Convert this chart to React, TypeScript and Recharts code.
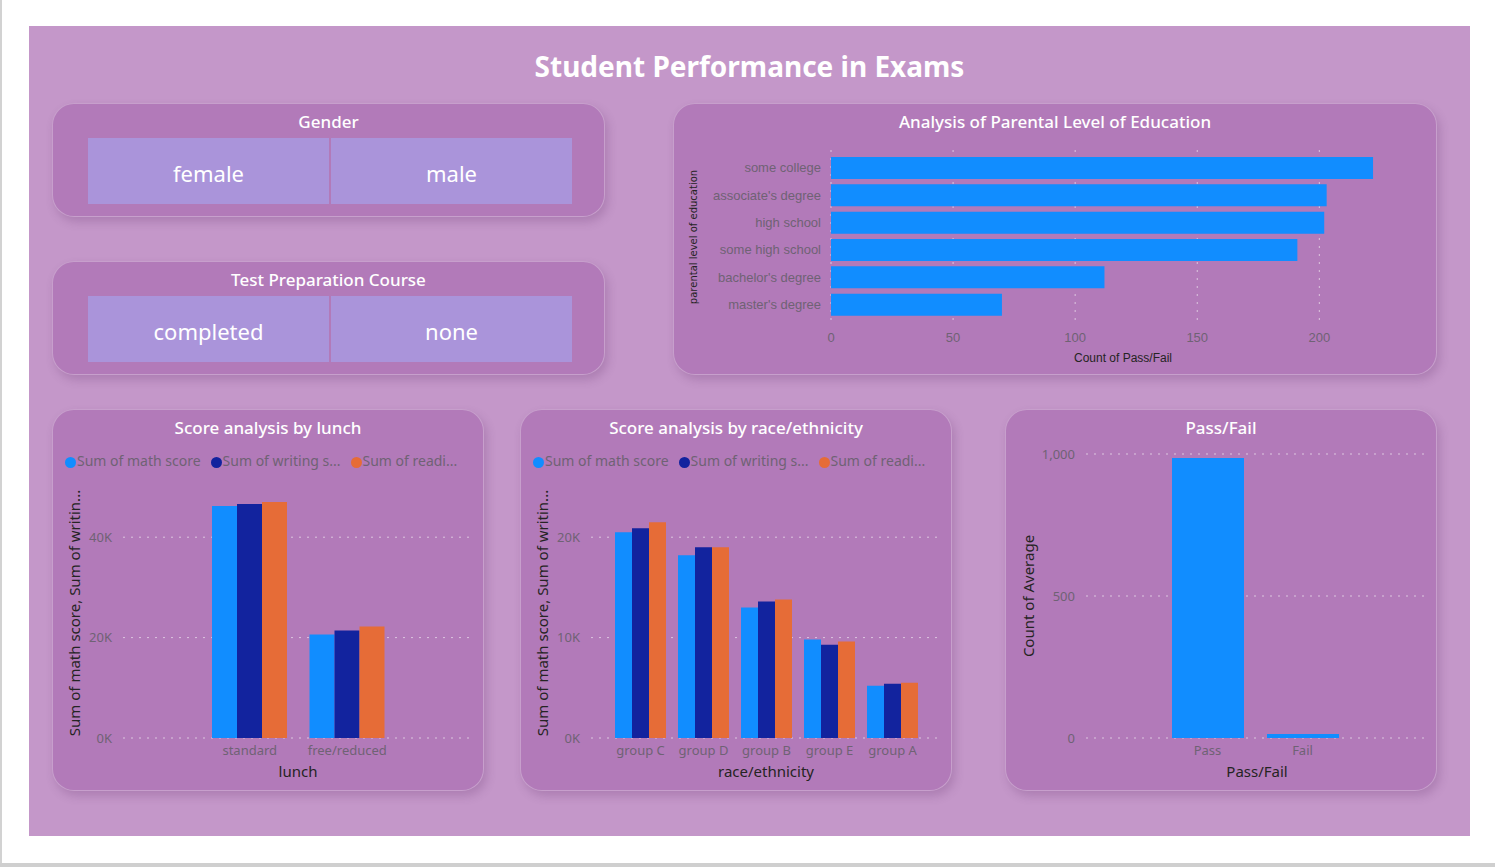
import { Bar, BarChart, CartesianGrid, Legend, XAxis, YAxis } from "recharts"

const genderOptions = ["female", "male"]
const prepOptions = ["completed", "none"]

const educationLevels = ["some college", "associate's degree", "high school", "some high school", "bachelor's degree", "master's degree"]
const educationCounts = [222, 203, 202, 191, 112, 70]
const educationTicks = [0, 50, 100, 150, 200]

const lunchTypes = ["standard", "free/reduced"]
const lunchMath = [46200, 20600]
const lunchWriting = [46600, 21400]
const lunchReading = [47000, 22200]
const lunchTicks = [0, 20000, 40000]

const raceGroups = ["group C", "group D", "group B", "group E", "group A"]
const raceMath = [20500, 18200, 13000, 9800, 5200]
const raceWriting = [20900, 19000, 13600, 9300, 5400]
const raceReading = [21500, 19000, 13800, 9600, 5500]
const raceTicks = [0, 10000, 20000]

const passFailLabels = ["Pass", "Fail"]
const passFailCounts = [986, 14]
const passFailTicks = [0, 500, 1000]

const seriesNames = ["Sum of math score", "Sum of writing s...", "Sum of readi..."]
const seriesColors = ["#118DFF", "#12239E", "#E66C37"]

const educationData = educationLevels.map((level, i) => ({ level, count: educationCounts[i] }))
const lunchData = lunchTypes.map((lunch, i) => ({ lunch, math: lunchMath[i], writing: lunchWriting[i], reading: lunchReading[i] }))
const raceData = raceGroups.map((group, i) => ({ group, math: raceMath[i], writing: raceWriting[i], reading: raceReading[i] }))
const passFailData = passFailLabels.map((label, i) => ({ label, count: passFailCounts[i] }))

const font = "'Noto Sans', 'Open Sans', sans-serif"
const narrow = "'Liberation Sans Narrow', 'Liberation Sans', sans-serif"
const tickColor = "#6f6274"
const titleColor = "#252423"
const gridColor = "#dcc6df"

const panelStyle = (left: number, top: number, width: number, height: number): React.CSSProperties => ({
  position: "absolute",
  left,
  top,
  width,
  height,
  background: "#B27AB9",
  borderRadius: 22,
  border: "1px solid rgba(255,255,255,0.28)",
  boxShadow: "3px 5px 10px rgba(90,40,100,0.22)",
  boxSizing: "border-box",
  fontFamily: font,
})

const panelTitle = (text: string, top: number) => (
  <div style={{ position: "absolute", left: 0, right: 0, top, textAlign: "center", color: "#fff", fontSize: 17, fontWeight: 500 }}>
    {text}
  </div>
)

function Slicer({ left, top, title, options }: { left: number; top: number; title: string; options: string[] }) {
  return (
    <div style={panelStyle(left, top, 553, 114)}>
      {panelTitle(title, 6)}
      {options.map((o, i) => (
        <div
          key={o}
          style={{
            position: "absolute",
            left: 35 + i * 243,
            top: 34,
            width: 241,
            height: 66,
            background: "#AA94DA",
            color: "#fff",
            fontSize: 22,
            paddingTop: 3,
            boxSizing: "border-box",
            display: "flex",
            alignItems: "center",
            justifyContent: "center",
          }}
        >
          {o}
        </div>
      ))}
    </div>
  )
}

const vLabel = (text: string, cx: number, cy: number, size: number, family = font) => (
  <div
    style={{
      position: "absolute",
      left: cx,
      top: cy,
      transform: "translate(-50%, -50%) rotate(-90deg)",
      whiteSpace: "nowrap",
      color: titleColor,
      fontSize: size,
      fontFamily: family,
    }}
  >
    {text}
  </div>
)

const hLabel = (text: string, cx: number, cy: number, size: number, family = font) => (
  <div
    style={{
      position: "absolute",
      left: cx,
      top: cy,
      transform: "translate(-50%, -50%)",
      whiteSpace: "nowrap",
      color: titleColor,
      fontSize: size,
      fontFamily: family,
    }}
  >
    {text}
  </div>
)

const kFormat = (v: number) => `${v / 1000}K`

function ScoreChart({ data, dataKey, ticks, max, padding, barSize }: any) {
  return (
    <BarChart
      width={432}
      height={382}
      data={data}
      margin={{ top: 58, right: 16, bottom: 0, left: 0 }}
      barGap={0}
      style={{ position: "absolute", left: 0, top: 0 }}
    >
      <CartesianGrid vertical={false} horizontalValues={ticks} stroke={gridColor} strokeDasharray="2 6" />
      <Legend
        verticalAlign="top"
        align="left"
        iconType="circle"
        iconSize={11}
        itemSorter={(item: any) => seriesNames.indexOf(item.value)}
        wrapperStyle={{ top: 41, left: 12, fontSize: 14, fontFamily: font }}
        formatter={(value: string) => <span style={{ color: tickColor, marginLeft: -3 }}>{value}</span>}
      />
      <XAxis
        dataKey={dataKey}
        height={54}
        axisLine={false}
        tickLine={false}
        padding={padding}
        tick={{ fill: tickColor, fontSize: 13, fontFamily: font }}
        interval={0}
      />
      <YAxis
        width={70}
        domain={[0, max]}
        ticks={ticks}
        axisLine={false}
        tickLine={false}
        tickMargin={5}
        tickFormatter={kFormat}
        tick={{ fill: tickColor, fontSize: 13, fontFamily: font }}
      />
      {["math", "writing", "reading"].map((k, i) => (
        <Bar key={k} dataKey={k} name={seriesNames[i]} fill={seriesColors[i]} barSize={barSize} isAnimationActive={false} legendType="circle" />
      ))}
    </BarChart>
  )
}

export default function App() {
  return (
    <div style={{ position: "absolute", left: 0, top: 0, width: 1495, height: 867, background: "#fff", overflow: "hidden" }}>
      <div style={{ position: "absolute", left: 0, top: 0, width: 2, height: 864, background: "#d2d2d2" }} />
      <div style={{ position: "absolute", left: 0, top: 863, width: 1495, height: 4, background: "#cfcfcf" }} />
      <div style={{ position: "absolute", left: 29, top: 26, width: 1441, height: 810, background: "#C497C9" }}>
        <div
          style={{
            position: "absolute",
            left: 0,
            right: 0,
            top: 21,
            textAlign: "center",
            color: "#fff",
            fontFamily: font,
            fontWeight: 700,
            fontSize: 28,
          }}
        >
          Student Performance in Exams
        </div>
      </div>

      <Slicer left={52} top={103} title="Gender" options={genderOptions} />
      <Slicer left={52} top={261} title="Test Preparation Course" options={prepOptions} />

      <div style={panelStyle(673, 103, 764, 272)}>
        {panelTitle("Analysis of Parental Level of Education", 6)}
        <BarChart
          width={764}
          height={272}
          data={educationData}
          layout="vertical"
          margin={{ top: 46, right: 21, bottom: 0, left: 0 }}
          style={{ position: "absolute", left: 0, top: 0 }}
        >
          <CartesianGrid horizontal={false} verticalValues={educationTicks} stroke={gridColor} strokeDasharray="2 6" />
          <XAxis
            type="number"
            domain={[0, 240]}
            ticks={educationTicks}
            height={50}
            axisLine={false}
            tickLine={false}
            tickMargin={1}
            tick={{ fill: tickColor, fontSize: 13, fontFamily: narrow }}
          />
          <YAxis
            type="category"
            dataKey="level"
            width={157}
            axisLine={false}
            tickLine={false}
            tickMargin={4}
            padding={{ top: 4, bottom: 8 }}
            interval={0}
            tick={{ fill: tickColor, fontSize: 13, fontFamily: narrow }}
          />
          <Bar dataKey="count" fill="#118DFF" barSize={22} isAnimationActive={false} />
        </BarChart>
        {vLabel("parental level of education", 19, 133, 10, "'DejaVu Sans', sans-serif")}
        {hLabel("Count of Pass/Fail", 449, 254, 12, narrow)}
      </div>

      <div style={panelStyle(52, 409, 432, 382)}>
        {panelTitle("Score analysis by lunch", 6)}
        <ScoreChart data={lunchData} dataKey="lunch" ticks={lunchTicks} max={50000} padding={{ left: 78, right: 73 }} barSize={25} />
        {vLabel("Sum of math score, Sum of writin...", 21, 203, 15)}
        {hLabel("lunch", 245, 361, 15)}
      </div>

      <div style={panelStyle(520, 409, 432, 382)}>
        {panelTitle("Score analysis by race/ethnicity", 6)}
        <ScoreChart data={raceData} dataKey="group" ticks={raceTicks} max={25000} padding={{ left: 18, right: 13 }} barSize={17} />
        {vLabel("Sum of math score, Sum of writin...", 21, 203, 15)}
        {hLabel("race/ethnicity", 245, 361, 15)}
      </div>

      <div style={panelStyle(1005, 409, 432, 382)}>
        {panelTitle("Pass/Fail", 6)}
        <BarChart
          width={432}
          height={382}
          data={passFailData}
          margin={{ top: 44, right: 12, bottom: 0, left: 0 }}
          style={{ position: "absolute", left: 0, top: 0 }}
        >
          <CartesianGrid vertical={false} horizontalValues={passFailTicks} stroke={gridColor} strokeDasharray="2 6" />
          <XAxis
            dataKey="label"
            height={54}
            axisLine={false}
            tickLine={false}
            padding={{ left: 74, right: 76 }}
            tick={{ fill: tickColor, fontSize: 13, fontFamily: font }}
          />
          <YAxis
            width={80}
            domain={[0, 1000]}
            ticks={passFailTicks}
            axisLine={false}
            tickLine={false}
            tickMargin={5}
            tickFormatter={(v: number) => v.toLocaleString("en-US")}
            tick={{ fill: tickColor, fontSize: 13, fontFamily: font }}
          />
          <Bar dataKey="count" fill="#118DFF" barSize={72} isAnimationActive={false} />
        </BarChart>
        {vLabel("Count of Average", 22, 186, 15)}
        {hLabel("Pass/Fail", 251, 361, 15)}
      </div>
    </div>
  )
}
